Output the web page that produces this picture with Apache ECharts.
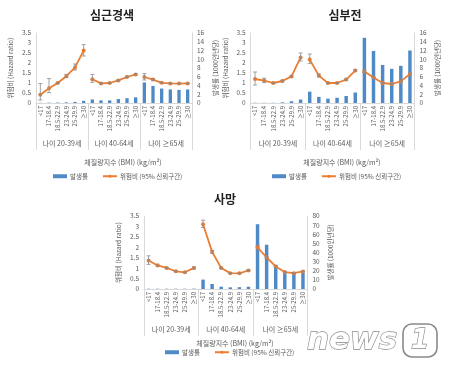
<!DOCTYPE html>
<html><head><meta charset="utf-8">
<script src="https://cdn.jsdelivr.net/npm/echarts@6/dist/echarts.min.js"></script>
<style>html,body{margin:0;padding:0;background:#fff}#c{width:450px;height:373px}</style>
</head><body><div id="c"></div>
<script>
const bmiCats = ['<17','17-18.4','18.5-22.9','23-24.9','25-29.9','≥30'];
const ageGroups = ['나이 20-39세','나이 40-64세','나이 ≥65세'];
const panelTitles = ['심근경색','심부전','사망'];

// 심근경색
const hr1 = [0.41,0.74,1.0,1.34,1.78,2.62, 1.19,0.98,1.0,1.13,1.3,1.43, 1.3,1.17,1.01,0.98,0.97,0.98];
const ciLow1 = [0.15,0.52,0.97,1.27,1.65,2.35, 1.03,0.95,0.98,1.1,1.27,1.4, 1.15,1.13,0.99,0.96,0.95,0.96];
const ciHigh1 = [0.97,1.22,1.03,1.43,1.95,2.92, 1.43,1.02,1.02,1.16,1.34,1.47, 1.47,1.22,1.03,1.0,0.99,1.0];
const inc1 = [0.05,0.08,0.1,0.15,0.25,0.5, 0.8,0.6,0.6,0.9,1.1,1.3, 4.7,3.9,3.3,3.1,3.0,3.1];

// 심부전
const hr2 = [1.2,1.12,1.0,1.1,1.33,2.28, 2.17,1.37,1.0,1.0,1.17,1.62, 1.58,1.28,1.0,0.95,1.08,1.45];
const ciLow2 = [0.9,1.02,0.97,1.06,1.28,2.1, 1.98,1.3,0.97,0.97,1.13,1.57, 1.52,1.24,0.98,0.92,1.05,1.41];
const ciHigh2 = [1.55,1.24,1.03,1.14,1.38,2.5, 2.45,1.45,1.03,1.03,1.21,1.67, 1.64,1.32,1.02,0.98,1.11,1.49];
const inc2 = [0.05,0.05,0.05,0.15,0.4,0.78, 2.6,1.4,1.0,1.2,1.6,2.4, 14.9,11.9,8.7,7.8,8.5,12.0];

// 사망
const hr3 = [1.37,1.13,1.01,0.85,0.8,1.01, 3.1,1.78,1.01,0.76,0.75,0.89, 2.0,1.51,1.08,0.81,0.76,0.84];
const ciLow3 = [1.18,1.08,0.98,0.82,0.77,0.96, 2.95,1.7,0.98,0.74,0.73,0.86, 1.88,1.46,1.04,0.79,0.74,0.81];
const ciHigh3 = [1.59,1.19,1.04,0.88,0.83,1.06, 3.3,1.85,1.04,0.79,0.78,0.93, 2.1,1.56,1.12,0.83,0.78,0.87];
const inc3 = [0.3,0.3,0.3,0.3,0.3,0.4, 10.3,5.5,2.5,1.8,2.0,2.5, 71,48.5,26.5,18,17,18];

const hrList = [hr1,hr2,hr3], loList=[ciLow1,ciLow2,ciLow3], hiList=[ciHigh1,ciHigh2,ciHigh3], incList=[inc1,inc2,inc3];
const incMax = [16,16,80], incInt = [2,2,10];

const FONT = '"Noto Sans CJK KR","Noto Sans",sans-serif';
const BAR = '#4f8ac6', LINE = '#ED7D31', GRAYL = '#d9d9d9', TXT = '#595959';

const grids = [
  {left:36, top:33, width:156, height:70},
  {left:250.5, top:33, width:164, height:70},
  {left:144, top:216, width:163.5, height:73}
];
const titlePos = [[112,15],[345,15],[225,199]];
const xNamePos = [[123,162],[342,162],[235,343]];
const legendPos = [[53,173],[272,173],[165,349]];

const allCats = ageGroups.flatMap(() => bmiCats);
const xAxis = [], yAxis = [], series = [], graphic = [], legend = [];

grids.forEach((g, i) => {
  xAxis.push({type:'category', gridIndex:i, position:'bottom', data: allCats,
    axisLine:{show:true, lineStyle:{color:GRAYL}}, axisTick:{show:false},
    axisLabel:{interval:0, rotate:90, fontSize:6, color:TXT, margin:3, fontFamily:FONT}});
  xAxis.push({type:'category', gridIndex:i, position:'bottom', data: ageGroups,
    axisLine:{show:false}, axisTick:{show:true, length:47, lineStyle:{color:GRAYL}},
    axisLabel:{fontSize:7, color:TXT, margin:37, fontFamily:FONT}, splitLine:{show:false}});
  yAxis.push({type:'value', gridIndex:i, position:'left', min:0, max:3.5, interval:0.5,
    axisLine:{show:true, lineStyle:{color:GRAYL}}, axisTick:{show:false}, splitLine:{show:false},
    axisLabel:{fontSize:6.5, color:TXT, margin:5, fontFamily:FONT},
    name:'위험비 (Hazard ratio)', nameLocation:'middle', nameRotate:90, nameGap:22,
    nameTextStyle:{fontSize:6.5, color:TXT, fontFamily:FONT}});
  yAxis.push({type:'value', gridIndex:i, position:'right', min:0, max:incMax[i], interval:incInt[i],
    axisLine:{show:true, lineStyle:{color:GRAYL}}, axisTick:{show:false}, splitLine:{show:false},
    axisLabel:{fontSize:6.5, color:TXT, margin:5, fontFamily:FONT},
    name:'발생률 (1000인년당)', nameLocation:'middle', nameRotate:90, nameGap:20,
    nameTextStyle:{fontSize:6.5, color:TXT, fontFamily:FONT}});

  series.push({type:'bar', name:'발생률', xAxisIndex:2*i, yAxisIndex:2*i+1, data: incList[i],
    barWidth:'38%', itemStyle:{color:BAR}, z:2});
  for (let gI = 0; gI < 3; gI++) {
    series.push({type:'line', name:'위험비 (95% 신뢰구간)', xAxisIndex:2*i, yAxisIndex:2*i,
      data: hrList[i].map((v, k) => Math.floor(k/6) === gI ? v : '-'),
      connectNulls:false, symbol:'circle', symbolSize:4, showSymbol:true,
      lineStyle:{color:LINE, width:1.8}, itemStyle:{color:LINE}, z:4});
  }
  series.push({type:'custom', name:'CI', xAxisIndex:2*i, yAxisIndex:2*i,
    data: hrList[i].map((v, k) => [k, loList[i][k], hiList[i][k]]),
    encode:{x:0, y:[1,2]}, z:5, silent:true,
    renderItem: (params, api) => {
      const x = api.value(0);
      const lo = api.coord([x, api.value(1)]);
      const hi = api.coord([x, api.value(2)]);
      const w = 2;
      const st = {stroke:'#8a8a8a', lineWidth:0.8};
      return {type:'group', children:[
        {type:'line', shape:{x1:lo[0], y1:lo[1], x2:hi[0], y2:hi[1]}, style:st},
        {type:'line', shape:{x1:hi[0]-w, y1:hi[1], x2:hi[0]+w, y2:hi[1]}, style:st},
        {type:'line', shape:{x1:lo[0]-w, y1:lo[1], x2:lo[0]+w, y2:lo[1]}, style:st}
      ]};
    }});

  graphic.push({type:'text', x:titlePos[i][0], y:titlePos[i][1],
    style:{text:panelTitles[i], font:'bold 12px ' + FONT, fill:'#222', align:'center', verticalAlign:'middle'}});
  graphic.push({type:'text', x:xNamePos[i][0], y:xNamePos[i][1],
    style:{text:'체질량지수 (BMI) (kg/m²)', font:'7px ' + FONT, fill:TXT, align:'center', verticalAlign:'middle'}});
  legend.push({left:legendPos[i][0], top:legendPos[i][1], width:300, padding:0, orient:'horizontal',
    itemWidth:14, itemHeight:4, itemGap:14,
    textStyle:{fontSize:6.5, color:TXT, fontFamily:FONT, padding:[0,0,0,-2]},
    data:[{name:'발생률', icon:'rect'}, {name:'위험비 (95% 신뢰구간)'}]});
});

// watermark
graphic.push({type:'text', x:307, y:341, style:{text:'news', font:'italic bold 31px "DejaVu Sans",sans-serif',
  fill:'#fff', stroke:'#8a8a8a', lineWidth:1.3, verticalAlign:'middle'}});
graphic.push({type:'rect', shape:{x:403, y:324, width:34, height:33, r:9}, style:{fill:'#fff', stroke:'#8a8a8a', lineWidth:1.6}});
graphic.push({type:'text', x:420, y:341, style:{text:'1', font:'italic bold 26px "DejaVu Sans",sans-serif',
  fill:'#fff', stroke:'#8a8a8a', lineWidth:1.3, align:'center', verticalAlign:'middle'}});

const chart = echarts.init(document.getElementById('c'), null, {renderer:'canvas'});
chart.setOption({animation:false, backgroundColor:'#fff', grid: grids, xAxis, yAxis, series, legend, graphic});
</script></body></html>
